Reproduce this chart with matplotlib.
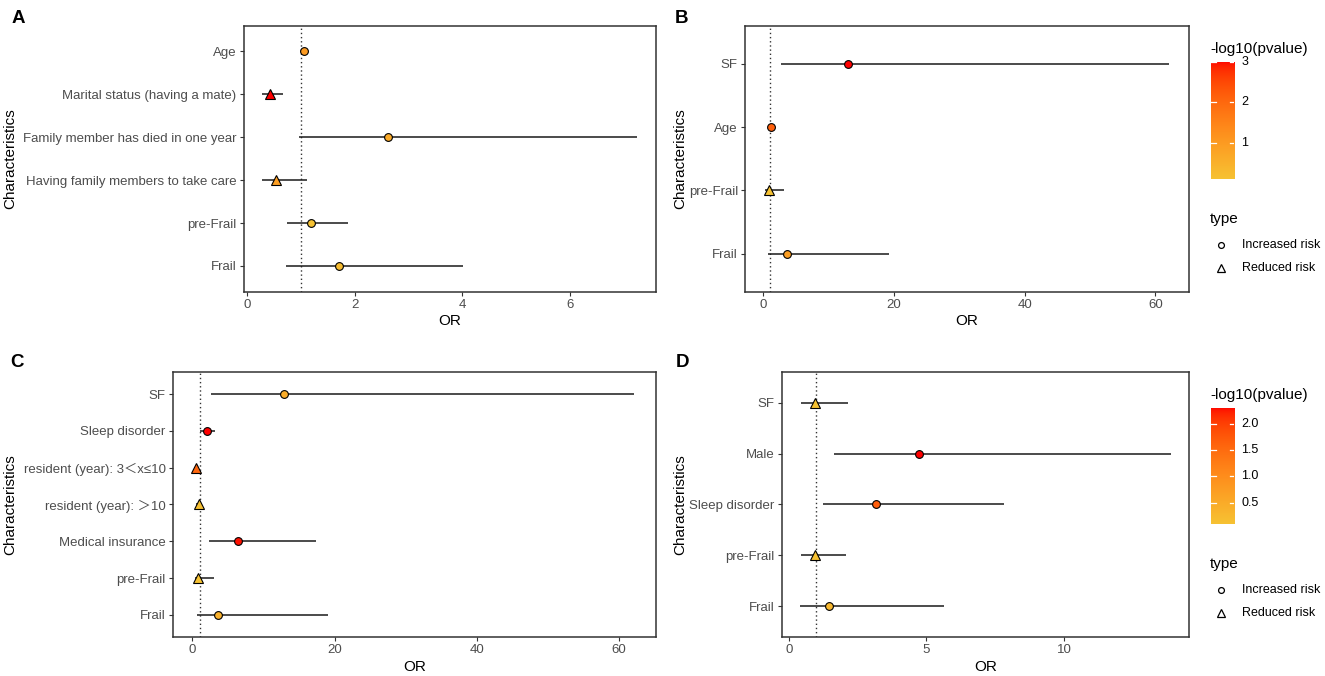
import numpy as np
import matplotlib
matplotlib.use("Agg")
import matplotlib.pyplot as plt
from matplotlib.colors import ListedColormap, Normalize, to_rgb
from matplotlib.lines import Line2D

plt.rcParams['font.family'] = ['Liberation Sans', 'Noto Sans CJK SC', 'DejaVu Sans']

# ---------------- data ----------------
a_labels = ["Age", "Marital status (having a mate)", "Family member has died in one year",
            "Having family members to take care", "pre-Frail", "Frail"]
a_or = [1.05, 0.42, 2.62, 0.54, 1.19, 1.70]
a_lo = [1.01, 0.28, 0.96, 0.28, 0.74, 0.72]
a_hi = [1.09, 0.67, 7.25, 1.11, 1.88, 4.02]
a_logp = [0.75, 2.2, 0.5, 0.7, 0.1, 0.2]
a_type = ["Increased risk", "Reduced risk", "Increased risk", "Reduced risk",
          "Increased risk", "Increased risk"]
a_ticks = [0, 2, 4, 6]

b_labels = ["SF", "Age", "pre-Frail", "Frail"]
b_or = [13.0, 1.12, 0.80, 3.6]
b_lo = [2.7, 1.05, 0.29, 0.70]
b_hi = [62.1, 1.20, 3.2, 19.2]
b_logp = [3.0, 2.15, 0.12, 0.93]
b_type = ["Increased risk", "Increased risk", "Reduced risk", "Increased risk"]
b_ticks = [0, 20, 40, 60]
b_cbar_ticks = [1, 2, 3]

c_labels = ["SF", "Sleep disorder", "resident (year): 3＜x≤10", "resident (year): ＞10",
            "Medical insurance", "pre-Frail", "Frail"]
c_or = [12.9, 2.1, 0.45, 0.90, 6.4, 0.75, 3.6]
c_lo = [2.6, 1.0, 0.31, 0.55, 2.3, 0.33, 0.65]
c_hi = [62.07, 3.2, 0.66, 1.40, 17.4, 3.1, 19.1]
c_logp = [0.55, 3.0, 2.0, 0.1, 2.95, 0.05, 0.45]
c_type = ["Increased risk", "Increased risk", "Reduced risk", "Reduced risk",
          "Increased risk", "Reduced risk", "Increased risk"]
c_ticks = [0, 20, 40, 60]

d_labels = ["SF", "Male", "Sleep disorder", "pre-Frail", "Frail"]
d_or = [0.96, 4.73, 3.17, 0.93, 1.45]
d_lo = [0.43, 1.62, 1.25, 0.43, 0.41]
d_hi = [2.16, 13.88, 7.81, 2.06, 5.64]
d_logp = [0.09, 2.30, 1.68, 0.12, 0.27]
d_type = ["Reduced risk", "Increased risk", "Increased risk", "Reduced risk", "Increased risk"]
d_ticks = [0, 5, 10]
d_cbar_ticks = [0.5, 1.0, 1.5, 2.0]

type_levels = ["Increased risk", "Reduced risk"]

# ---------------- colour scale (Lab interpolation like ggplot) ----------------
def _srgb2lab(c):
    c = np.array(c, dtype=float)
    lin = np.where(c <= 0.04045, c / 12.92, ((c + 0.055) / 1.055) ** 2.4)
    M = np.array([[0.4124, 0.3576, 0.1805], [0.2126, 0.7152, 0.0722], [0.0193, 0.1192, 0.9505]])
    xyz = M @ lin / np.array([0.95047, 1.0, 1.08883])
    f = np.where(xyz > 0.008856, np.cbrt(xyz), 7.787 * xyz + 16 / 116)
    return np.array([116 * f[1] - 16, 500 * (f[0] - f[1]), 200 * (f[1] - f[2])])

def _lab2srgb(lab):
    L, a, b = lab
    fy = (L + 16) / 116
    fx = fy + a / 500
    fz = fy - b / 200
    f = np.array([fx, fy, fz])
    xyz = np.where(f ** 3 > 0.008856, f ** 3, (f - 16 / 116) / 7.787) * np.array([0.95047, 1.0, 1.08883])
    Mi = np.array([[3.2406, -1.5372, -0.4986], [-0.9689, 1.8758, 0.0415], [0.0557, -0.2040, 1.0570]])
    lin = Mi @ xyz
    lin = np.clip(lin, 0, 1)
    c = np.where(lin <= 0.0031308, 12.92 * lin, 1.055 * lin ** (1 / 2.4) - 0.055)
    return np.clip(c, 0, 1)

low_col = "#F6C233"
high_col = "#FF0000"
l0 = _srgb2lab(to_rgb(low_col))
l1 = _srgb2lab(to_rgb(high_col))
cmap = ListedColormap([_lab2srgb(l0 + (l1 - l0) * t) for t in np.linspace(0, 1, 256)])

# ---------------- figure ----------------
W, H = 1325, 676
fig = plt.figure(figsize=(W / 100, H / 100), dpi=100)

TICKCOL = "#4D4D4D"
FRAME = "#333333"


def panel(rect, labels, orv, lo, hi, logp, types, ticks, letter, letter_xy, ylab_x):
    x0, y0, x1, y1 = rect
    ax = fig.add_axes([x0 / W, 1 - y1 / H, (x1 - x0) / W, (y1 - y0) / H])
    n = len(labels)
    ypos = np.arange(n, 0, -1)
    ax.axvline(1, color=FRAME, lw=1.0, ls=(0, (1, 2)), zorder=1)
    ax.hlines(ypos, lo, hi, color="#1a1a1a", lw=1.1, zorder=2)
    norm = Normalize(min(logp), max(logp))
    for y, o, p, t in zip(ypos, orv, logp, types):
        if t == type_levels[0]:
            ax.plot(o, y, marker="o", ms=5.6, mfc=cmap(norm(p)), mec="black", mew=0.8, zorder=3)
        else:
            ax.plot(o, y, marker="^", ms=6.8, mfc=cmap(norm(p)), mec="black", mew=0.8, zorder=3)
    xmin, xmax = min(lo), max(hi)
    pad = 0.05 * (xmax - xmin)
    ax.set_xlim(xmin - pad, xmax + pad)
    ax.set_ylim(0.4, n + 0.6)
    ax.set_yticks(ypos)
    ax.set_yticklabels(labels)
    ax.set_xticks(ticks)
    ax.set_xticklabels([str(t) for t in ticks])
    for s in ax.spines.values():
        s.set_color(FRAME)
        s.set_linewidth(1.1)
    ax.tick_params(axis="both", length=2.6, width=0.8, color=FRAME, labelsize=9.5,
                   labelcolor=TICKCOL)
    ax.tick_params(axis="x", pad=2.5)
    ax.tick_params(axis="y", pad=2.5)
    ax.set_xlabel("OR", fontsize=11, labelpad=2.5, color="black")
    ax.set_ylabel("Characteristics", fontsize=11, color="black")
    ax.yaxis.set_label_coords(ylab_x / W, 1 - (y0 + y1) / 2 / H, transform=fig.transFigure)
    fig.text(letter_xy[0] / W, 1 - letter_xy[1] / H, letter, fontsize=13.5,
             fontweight="bold", ha="left", va="baseline")
    return ax


def legends(cb_rect, vmin, vmax, cticks, fmt, title_y, type_y, item_ys):
    x0, y0, x1, y1 = cb_rect
    fig.text(1210 / W, 1 - title_y / H, "-log10(pvalue)", fontsize=11, ha="left", va="center")
    cax = fig.add_axes([x0 / W, 1 - y1 / H, (x1 - x0) / W, (y1 - y0) / H])
    grad = np.linspace(vmin, vmax, 256).reshape(-1, 1)
    cax.imshow(grad, aspect="auto", cmap=cmap, norm=Normalize(vmin, vmax), origin="lower",
               extent=[0, 1, vmin, vmax])
    cax.set_xlim(0, 1)
    cax.set_ylim(vmin, vmax)
    cax.axis("off")
    for v in cticks:
        cax.plot([0, 0.2], [v, v], color="white", lw=0.9)
        cax.plot([0.8, 1.0], [v, v], color="white", lw=0.9)
        cax.text(1 + (1241.5 - x1) / (x1 - x0), v, fmt.format(v), transform=cax.get_yaxis_transform(),
                 fontsize=9, ha="left", va="center", color="black")
    fig.text(1210 / W, 1 - type_y / H, "type", fontsize=11, ha="left", va="center")
    for lev, yy, mk, ms in zip(type_levels, item_ys, ["o", "^"], [4.2, 5.2]):
        fig.add_artist(Line2D([1221 / W], [1 - yy / H], marker=mk, ms=ms, mfc="none", mec="black",
                              mew=0.9, ls="none", transform=fig.transFigure))
        fig.text(1241.5 / W, 1 - yy / H, lev, fontsize=9, ha="left", va="center")


panel((243.7, 25.7, 655.7, 291.7), a_labels, a_or, a_lo, a_hi, a_logp, a_type, a_ticks,
      "A", (11.5, 22.7), 17)
panel((745, 26, 1189.3, 291.7), b_labels, b_or, b_lo, b_hi, b_logp, b_type, b_ticks,
      "B", (675, 22.7), 687)
panel((172.7, 372, 655.7, 637), c_labels, c_or, c_lo, c_hi, c_logp, c_type, c_ticks,
      "C", (10.5, 366.7), 17)
panel((781.7, 372, 1189.3, 637), d_labels, d_or, d_lo, d_hi, d_logp, d_type, d_ticks,
      "D", (676, 366.7), 687)

legends((1211, 61.7, 1234.3, 179), min(b_logp), max(b_logp), b_cbar_ticks, "{:g}", 49, 219, (245, 267.7))
legends((1211, 407.7, 1234.3, 524.3), min(d_logp), max(d_logp), d_cbar_ticks, "{:.1f}", 395, 564, (590, 613.3))

fig.savefig("out.png", dpi=100)
